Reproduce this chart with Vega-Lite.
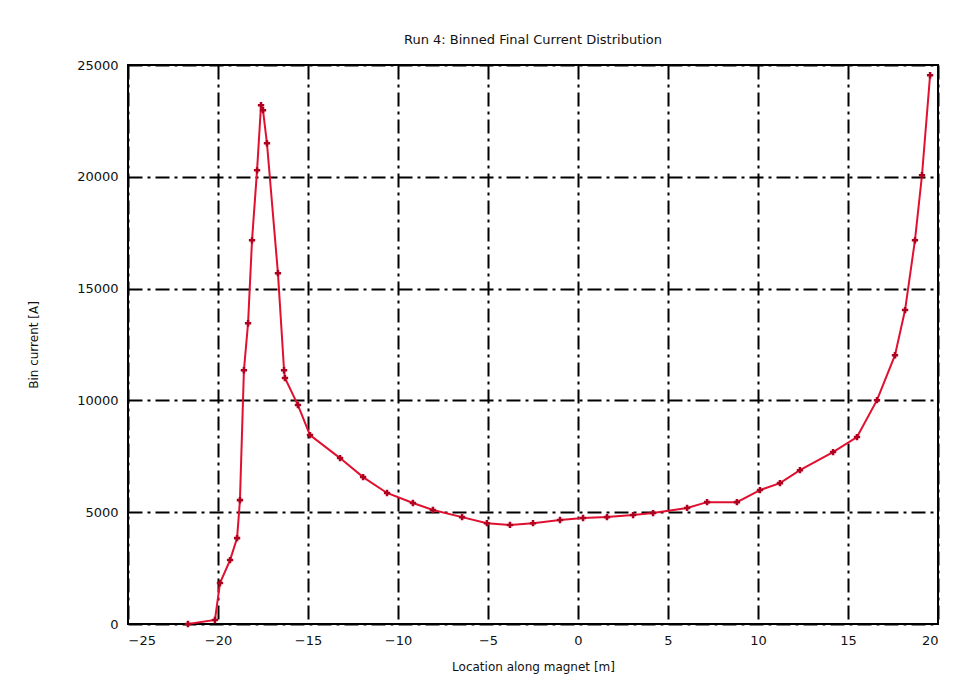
{
  "$schema": "https://vega.github.io/schema/vega-lite/v6.json",
  "width": 810,
  "height": 559,
  "autosize": {"type": "none"},
  "padding": {"left": 128, "top": 65, "right": 35, "bottom": 53},
  "background": "white",
  "title": {"text": "Run 4: Binned Final Current Distribution", "fontSize": 13, "font": "DejaVu Sans", "fontWeight": "normal", "color": "#111", "offset": 12},
  "data": {"values": [
    {"x": -21.67, "y": 0},
    {"x": -20.17, "y": 180},
    {"x": -19.89, "y": 1830},
    {"x": -19.33, "y": 2860},
    {"x": -18.94, "y": 3840},
    {"x": -18.78, "y": 5540},
    {"x": -18.56, "y": 11350},
    {"x": -18.33, "y": 13450},
    {"x": -18.11, "y": 17160},
    {"x": -17.83, "y": 20290},
    {"x": -17.61, "y": 23200},
    {"x": -17.5, "y": 22980},
    {"x": -17.28, "y": 21500},
    {"x": -16.67, "y": 15690},
    {"x": -16.33, "y": 11350},
    {"x": -16.28, "y": 11000},
    {"x": -15.56, "y": 9790},
    {"x": -14.89, "y": 8450},
    {"x": -13.22, "y": 7420},
    {"x": -11.94, "y": 6570},
    {"x": -10.61, "y": 5860},
    {"x": -9.17, "y": 5410},
    {"x": -8.06, "y": 5100},
    {"x": -6.44, "y": 4780},
    {"x": -5.06, "y": 4510},
    {"x": -3.78, "y": 4430},
    {"x": -2.5, "y": 4510},
    {"x": -1.0, "y": 4650},
    {"x": 0.28, "y": 4740},
    {"x": 1.61, "y": 4780},
    {"x": 3.06, "y": 4870},
    {"x": 4.17, "y": 4960},
    {"x": 6.06, "y": 5190},
    {"x": 7.17, "y": 5450},
    {"x": 8.83, "y": 5450},
    {"x": 10.11, "y": 5990},
    {"x": 11.22, "y": 6300},
    {"x": 12.33, "y": 6880},
    {"x": 14.17, "y": 7690},
    {"x": 15.5, "y": 8360},
    {"x": 16.61, "y": 10010},
    {"x": 17.61, "y": 12020},
    {"x": 18.17, "y": 14040},
    {"x": 18.72, "y": 17160},
    {"x": 19.11, "y": 20070},
    {"x": 19.56, "y": 24540}
  ]},
  "mark": {"type": "line", "color": "#e01030", "strokeWidth": 2, "point": {"shape": "cross", "size": 40, "filled": true, "color": "#b00020"}},
  "encoding": {
    "x": {"field": "x", "type": "quantitative", "scale": {"domain": [-25, 20], "nice": false, "zero": false},
      "axis": {"title": "Location along magnet [m]", "values": [-25, -20, -15, -10, -5, 0, 5, 10, 15, 20], "format": "d", "titlePadding": 14}},
    "y": {"field": "y", "type": "quantitative", "scale": {"domain": [0, 25000], "nice": false},
      "axis": {"title": "Bin current [A]", "values": [0, 5000, 10000, 15000, 20000, 25000], "format": "d", "titlePadding": 36}}
  },
  "config": {
    "view": {"stroke": "black", "strokeWidth": 2},
    "axis": {
      "grid": true, "gridColor": "black", "gridWidth": 2, "gridDash": [14, 5, 3, 5], "gridOpacity": 1,
      "domain": false, "ticks": false,
      "labelFont": "DejaVu Sans", "labelFontSize": 13, "labelColor": "#111", "labelPadding": 10,
      "titleFont": "DejaVu Sans", "titleFontSize": 12, "titleFontWeight": "normal", "titleColor": "#111"
    }
  }
}
